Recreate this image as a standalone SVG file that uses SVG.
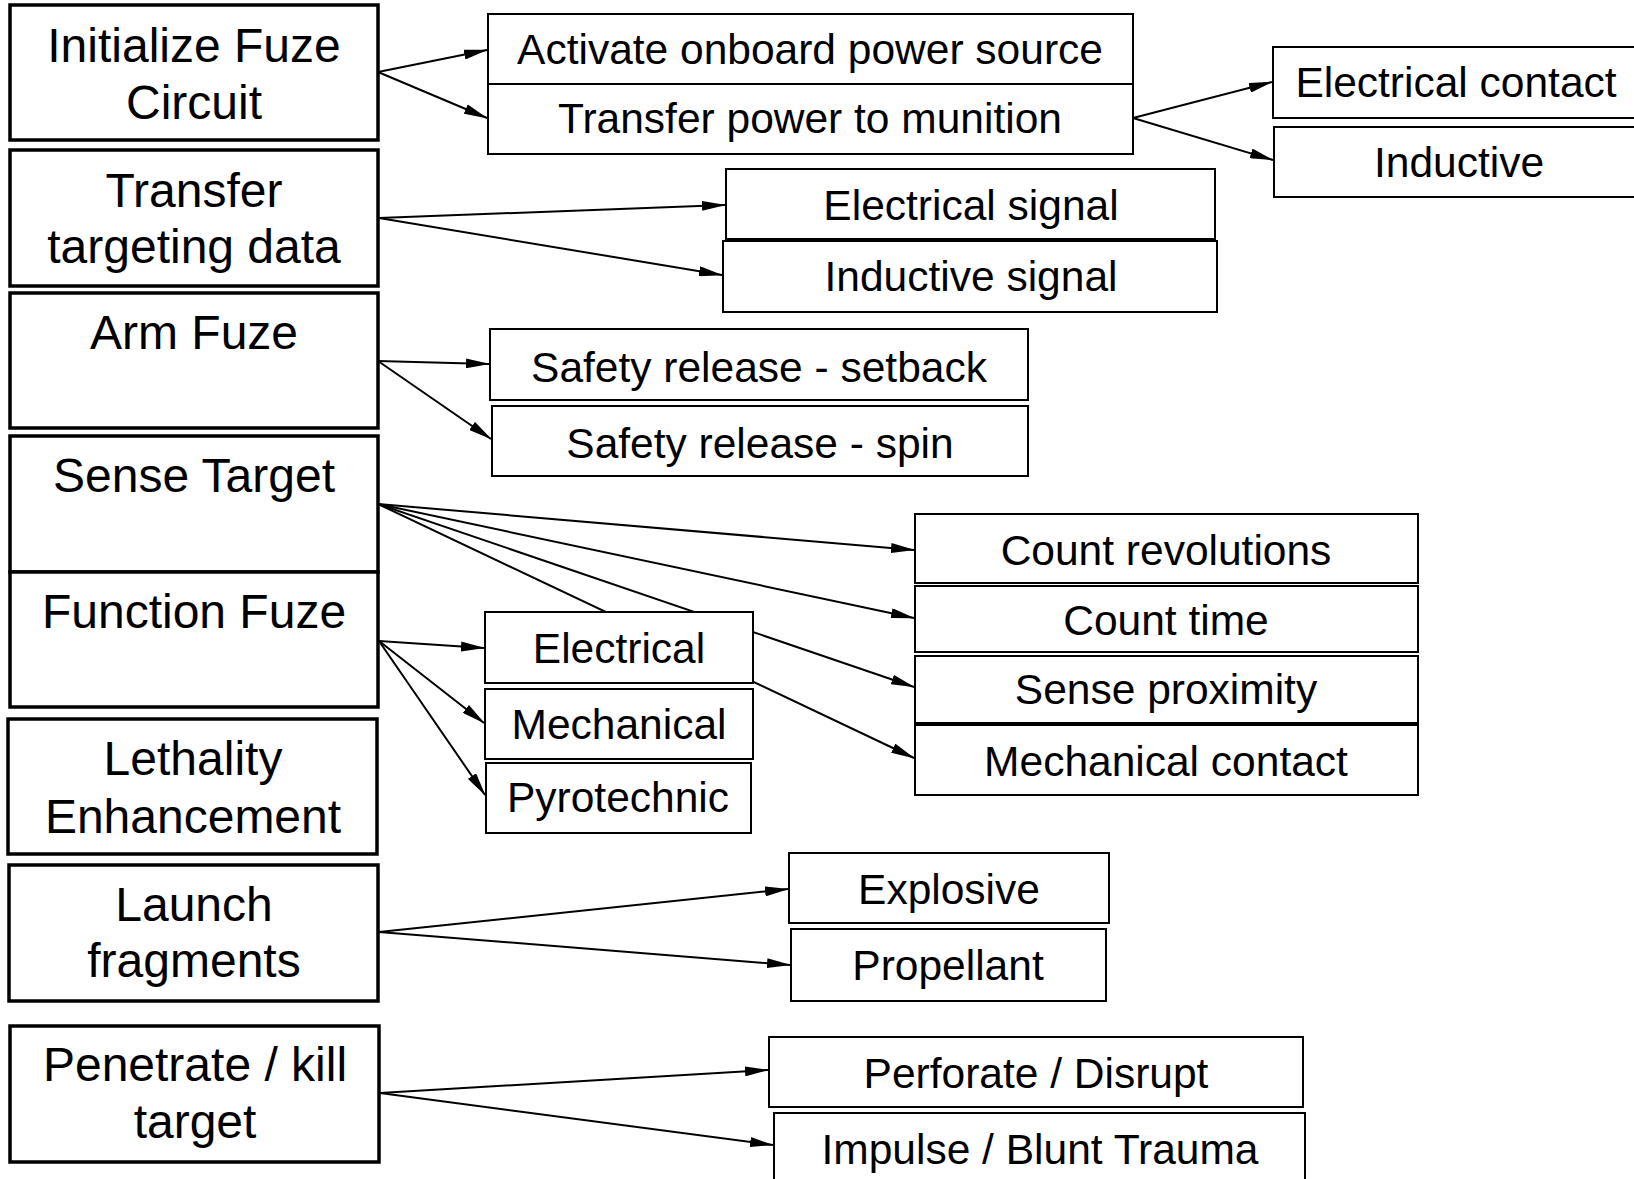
<svg xmlns="http://www.w3.org/2000/svg" width="1634" height="1179" viewBox="0 0 1634 1179">
<style>
text{font-family:"Liberation Sans",Arial,sans-serif;fill:#000;text-anchor:middle}
.main rect{fill:#fff;stroke:#000;stroke-width:3.5}
.main text{font-size:48px}
.sub rect{fill:#fff;stroke:#000;stroke-width:2}
.sub text{font-size:42.5px}
#connectors line{stroke:#000;stroke-width:2;marker-end:url(#arr)}
</style>
<defs>
<marker id="arr" markerUnits="userSpaceOnUse" markerWidth="24" markerHeight="10" viewBox="0 0 24 10" refX="23" refY="5" orient="auto">
<path d="M0,0 L24,5 L0,10 z" fill="#000"/>
</marker>
</defs>
<rect width="1634" height="1179" fill="#fff"/>
<g id="connectors">
<line x1="378" y1="72" x2="487" y2="50"/>
<line x1="378" y1="72" x2="487" y2="118"/>
<line x1="1133" y1="118" x2="1272" y2="82"/>
<line x1="1133" y1="118" x2="1273" y2="160"/>
<line x1="379" y1="218" x2="725" y2="205"/>
<line x1="379" y1="218" x2="722" y2="275"/>
<line x1="378" y1="361" x2="489" y2="364"/>
<line x1="378" y1="361" x2="491" y2="439"/>
<line x1="378" y1="504" x2="914" y2="550"/>
<line x1="378" y1="504" x2="914" y2="618"/>
<line x1="378" y1="504" x2="914" y2="687"/>
<line x1="378" y1="504" x2="914" y2="758"/>
<line x1="379" y1="641" x2="484" y2="648"/>
<line x1="379" y1="641" x2="484" y2="723"/>
<line x1="379" y1="641" x2="485" y2="795"/>
<line x1="379" y1="932" x2="788" y2="889"/>
<line x1="379" y1="932" x2="790" y2="965"/>
<line x1="380" y1="1093" x2="768" y2="1070"/>
<line x1="380" y1="1093" x2="773" y2="1145"/>
</g>
<g class="main">
<g id="n-initialize"><rect x="10" y="5" width="368" height="135"/><text x="194" y="62">Initialize Fuze</text><text x="194" y="119">Circuit</text></g>
<g id="n-transfer-targeting"><rect x="10" y="150" width="368" height="136"/><text x="194" y="207">Transfer</text><text x="194" y="263">targeting data</text></g>
<g id="n-arm"><rect x="10" y="293" width="368" height="135"/><text x="194" y="349">Arm Fuze</text></g>
<g id="n-sense"><rect x="10" y="436" width="368" height="136"/><text x="194" y="492">Sense Target</text></g>
<g id="n-function"><rect x="10" y="572" width="368" height="135"/><text x="194" y="628">Function Fuze</text></g>
<g id="n-lethality"><rect x="8" y="719" width="369" height="135"/><text x="193" y="775">Lethality</text><text x="193" y="833">Enhancement</text></g>
<g id="n-launch"><rect x="9" y="865" width="369" height="136"/><text x="194" y="921">Launch</text><text x="194" y="977">fragments</text></g>
<g id="n-penetrate"><rect x="10" y="1026" width="369" height="136"/><text x="195" y="1081">Penetrate / kill</text><text x="195" y="1138">target</text></g>
</g>
<g class="sub">
<g id="n-activate"><rect x="488" y="14" width="645" height="70"/><text x="810" y="64">Activate onboard power source</text></g>
<g id="n-transfer-power"><rect x="488" y="84" width="645" height="70"/><text x="810" y="133">Transfer power to munition</text></g>
<g id="n-elec-contact"><rect x="1273" y="47" width="372" height="71"/><text x="1456" y="97">Electrical contact</text></g>
<g id="n-inductive"><rect x="1274" y="127" width="372" height="70"/><text x="1459" y="177">Inductive</text></g>
<g id="n-elec-signal"><rect x="726" y="169" width="489" height="70"/><text x="971" y="220">Electrical signal</text></g>
<g id="n-ind-signal"><rect x="723" y="241" width="494" height="71"/><text x="971" y="291">Inductive signal</text></g>
<g id="n-setback"><rect x="490" y="329" width="538" height="71"/><text x="759" y="382">Safety release - setback</text></g>
<g id="n-spin"><rect x="492" y="406" width="536" height="70"/><text x="760" y="458">Safety release - spin</text></g>
<g id="n-count-rev"><rect x="915" y="514" width="503" height="69"/><text x="1166" y="565">Count revolutions</text></g>
<g id="n-count-time"><rect x="915" y="586" width="503" height="66"/><text x="1166" y="635">Count time</text></g>
<g id="n-proximity"><rect x="915" y="656" width="503" height="67"/><text x="1166" y="704">Sense proximity</text></g>
<g id="n-mech-contact"><rect x="915" y="725" width="503" height="70"/><text x="1166" y="776">Mechanical contact</text></g>
<g id="n-electrical"><rect x="485" y="612" width="268" height="71"/><text x="619" y="663">Electrical</text></g>
<g id="n-mechanical"><rect x="485" y="689" width="268" height="70"/><text x="619" y="739">Mechanical</text></g>
<g id="n-pyrotechnic"><rect x="486" y="763" width="265" height="70"/><text x="618" y="812">Pyrotechnic</text></g>
<g id="n-explosive"><rect x="789" y="853" width="320" height="70"/><text x="949" y="904">Explosive</text></g>
<g id="n-propellant"><rect x="791" y="929" width="315" height="72"/><text x="948" y="980">Propellant</text></g>
<g id="n-perforate"><rect x="769" y="1037" width="534" height="70"/><text x="1036" y="1088">Perforate / Disrupt</text></g>
<g id="n-impulse"><rect x="774" y="1113" width="531" height="80"/><text x="1040" y="1164">Impulse / Blunt Trauma</text></g>
</g>
</svg>
